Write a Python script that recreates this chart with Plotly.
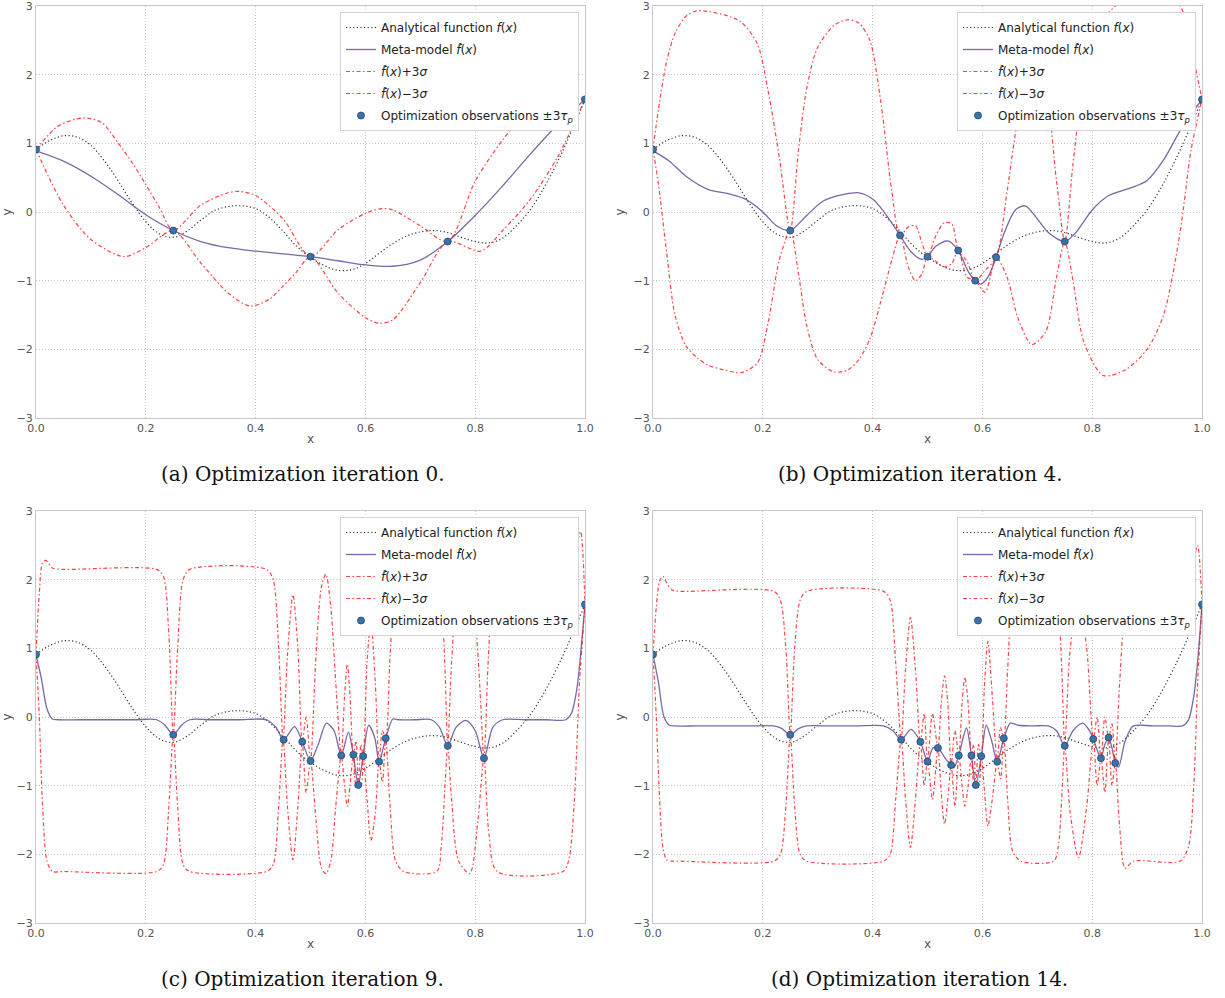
import plotly.graph_objects as go

W, H = 1225, 998

# ---------------- data ----------------
x_true = [0, 0.025, 0.05, 0.075, 0.1, 0.125, 0.15, 0.175, 0.2, 0.225, 0.25, 0.275, 0.3, 0.325,
          0.35, 0.375, 0.4, 0.425, 0.45, 0.475, 0.5, 0.525, 0.55, 0.575, 0.6, 0.625, 0.65, 0.675,
          0.7, 0.725, 0.75, 0.775, 0.8, 0.825, 0.85, 0.875, 0.9, 0.925, 0.95, 0.975, 1.0]
f_true = [0.91, 1.04, 1.11, 1.09, 0.97, 0.74, 0.45, 0.13, -0.14, -0.32, -0.37, -0.28, -0.12, 0.02,
          0.08, 0.09, 0.05, -0.08, -0.28, -0.50, -0.66, -0.78, -0.85, -0.84, -0.75, -0.60, -0.46,
          -0.35, -0.29, -0.27, -0.30, -0.37, -0.43, -0.45, -0.38, -0.20, 0.03, 0.35, 0.73, 1.17, 1.64]

# Panel (a) iteration 0
xa = [0, 0.05, 0.1, 0.15, 0.2, 0.25, 0.3, 0.35, 0.4, 0.45, 0.5, 0.55, 0.6, 0.65, 0.7, 0.75,
      0.8, 0.85, 0.9, 0.95, 1.0]
meta_a = [0.89, 0.74, 0.52, 0.25, -0.04, -0.27, -0.43, -0.52, -0.57, -0.61, -0.65, -0.71, -0.77,
          -0.79, -0.70, -0.43, -0.05, 0.38, 0.84, 1.27, 1.64]
xa_up = [0, 0.04, 0.085, 0.12, 0.15, 0.175, 0.2, 0.225, 0.25, 0.3, 0.35, 0.37, 0.4, 0.45, 0.5,
         0.55, 0.6, 0.63, 0.65, 0.7, 0.75, 0.8, 0.85, 0.9, 0.95, 1.0]
up_a = [0.91, 1.25, 1.37, 1.3, 1.0, 0.72, 0.4, 0.06, -0.27, 0.1, 0.28, 0.3, 0.24, -0.1, -0.65,
        -0.26, -0.02, 0.05, 0.03, -0.2, -0.43, 0.45, 1.05, 1.5, 1.75, 1.64]
xa_lo = [0, 0.05, 0.1, 0.16, 0.2, 0.25, 0.3, 0.35, 0.39, 0.425, 0.45, 0.475, 0.5, 0.55, 0.6,
         0.625, 0.65, 0.7, 0.75, 0.81, 0.85, 0.9, 0.95, 1.0]
lo_a = [0.91, 0.1, -0.4, -0.65, -0.52, -0.27, -0.74, -1.18, -1.37, -1.27, -1.08, -0.87, -0.65,
        -1.18, -1.54, -1.62, -1.57, -1.03, -0.43, -0.57, -0.27, 0.18, 0.8, 1.64]
obs_xa = [0.0, 0.25, 0.5, 0.75, 1.0]
obs_ya = [0.91, -0.27, -0.65, -0.43, 1.64]

# Panel (b) iteration 4
xb = [0, 0.03, 0.06, 0.1, 0.14, 0.17, 0.2, 0.225, 0.25, 0.28, 0.31, 0.35, 0.375, 0.4, 0.42, 0.45,
      0.47, 0.49, 0.5, 0.515, 0.537, 0.556, 0.575, 0.587, 0.597, 0.61, 0.625, 0.64, 0.66, 0.678,
      0.7, 0.72, 0.75, 0.77, 0.8, 0.83, 0.87, 0.9, 0.93, 0.965, 1.0]
meta_b = [0.89, 0.74, 0.52, 0.33, 0.26, 0.18, 0.0, -0.2, -0.27, -0.05, 0.16, 0.26, 0.28, 0.19,
          0.01, -0.34, -0.58, -0.69, -0.65, -0.5, -0.42, -0.56, -0.88, -1.0, -1.05, -0.95, -0.66,
          -0.3, 0.03, 0.09, -0.1, -0.3, -0.43, -0.3, 0.03, 0.24, 0.35, 0.46, 0.76, 1.25, 1.64]
xb_s = [0, 0.01, 0.025, 0.04, 0.06, 0.08, 0.1, 0.13, 0.16, 0.19, 0.21, 0.23, 0.25, 0.265, 0.28,
        0.3, 0.33, 0.355, 0.375, 0.395, 0.415, 0.435, 0.45, 0.465, 0.478, 0.49, 0.5, 0.515, 0.53,
        0.544, 0.556, 0.572, 0.587, 0.605, 0.625, 0.645, 0.665, 0.69, 0.715, 0.735, 0.75, 0.765,
        0.785, 0.82, 0.86, 0.9, 0.93, 0.96, 0.98, 1.0]
up_b = [0.91, 1.5, 2.2, 2.6, 2.85, 2.93, 2.92, 2.87, 2.77, 2.45, 1.75, 0.8, -0.27, 0.9, 1.8, 2.4,
        2.72, 2.8, 2.75, 2.5, 1.6, 0.3, -0.34, -0.22, -0.2, -0.45, -0.65, -0.35, -0.16, -0.17,
        -0.56, -0.72, -1.0, -0.85, -0.66, 0.3, 1.35, 2.0, 1.7, 0.45, -0.43, 0.7, 1.9, 2.8, 3.1,
        3.15, 3.1, 3.0, 2.4, 1.64]
lo_b = [0.91, 0.4, -0.6, -1.5, -1.95, -2.12, -2.23, -2.3, -2.34, -2.2, -1.6, -0.7, -0.27, -0.9,
        -1.65, -2.15, -2.33, -2.3, -2.15, -1.85, -1.3, -0.7, -0.34, -0.8, -1.0, -0.9, -0.65, -0.72,
        -0.8, -0.75, -0.56, -0.95, -1.0, -1.17, -0.66, -0.95, -1.55, -1.93, -1.75, -0.95, -0.43,
        -1.0, -1.9, -2.38, -2.3, -2.0, -1.5, -0.3, 0.9, 1.64]
obs_xb = [0.0, 0.25, 0.45, 0.5, 0.556, 0.587, 0.625, 0.75, 1.0]
obs_yb = [0.91, -0.27, -0.34, -0.65, -0.56, -1.0, -0.66, -0.43, 1.64]

# Panel (c) iteration 9
xc = [0, 0.01, 0.02, 0.03, 0.04, 0.08, 0.13, 0.18, 0.22, 0.235, 0.25, 0.265, 0.28, 0.32, 0.37,
      0.42, 0.437, 0.451, 0.471, 0.485, 0.5, 0.514, 0.529, 0.543, 0.556, 0.569, 0.578, 0.587,
      0.596, 0.606, 0.617, 0.625, 0.637, 0.65, 0.66, 0.69, 0.72, 0.735, 0.75, 0.765, 0.783, 0.8,
      0.816, 0.832, 0.85, 0.89, 0.93, 0.965, 0.975, 0.985, 0.993, 1.0]
meta_c = [0.91, 0.55, 0.12, -0.03, -0.04, -0.04, -0.04, -0.04, -0.04, -0.12, -0.26, -0.12, -0.04,
          -0.04, -0.04, -0.04, -0.15, -0.33, -0.14, -0.36, -0.64, -0.4, -0.09, -0.2, -0.56, -0.22,
          -0.55, -0.99, -0.56, -0.12, -0.3, -0.65, -0.31, -0.03, -0.04, -0.04, -0.04, -0.15,
          -0.42, -0.15, -0.05, -0.2, -0.6, -0.15, -0.04, -0.04, -0.04, -0.04, 0.05, 0.4, 1.0, 1.64]
xc_up = [0, 0.006, 0.012, 0.018, 0.03, 0.05, 0.22, 0.232, 0.242, 0.25, 0.258, 0.268, 0.28, 0.42,
         0.432, 0.442, 0.45, 0.458, 0.468, 0.477, 0.485, 0.492, 0.5, 0.51, 0.52, 0.528, 0.537,
         0.546, 0.556, 0.562, 0.567, 0.572, 0.578, 0.583, 0.587, 0.592, 0.596, 0.603, 0.61, 0.618,
         0.625, 0.631, 0.637, 0.645, 0.655, 0.67, 0.73, 0.738, 0.745, 0.75, 0.757, 0.77, 0.783,
         0.797, 0.808, 0.816, 0.825, 0.84, 0.96, 0.975, 0.985, 0.992, 1.0]
up_c = [0.91, 1.8, 2.25, 2.28, 2.17, 2.15, 2.15, 2.05, 1.2, -0.26, 1.0, 2.0, 2.15, 2.15, 2.0, 1.0,
        -0.33, 0.9, 1.78, 1.0, -0.36, 0.0, -0.64, 0.9, 1.9, 2.08, 1.6, 0.5, -0.56, 0.3, 0.77, 0.3,
        -0.55, -0.35, -0.99, -0.4, -0.57, 0.8, 1.4, 0.5, -0.65, -0.2, -0.31, 0.9, 1.9, 2.15, 2.15,
        1.8, 0.7, -0.42, 0.8, 2.0, 2.2, 1.7, 0.5, -0.6, 1.0, 2.15, 2.15, 2.2, 2.5, 2.7, 1.64]
xc_lo = [0, 0.006, 0.012, 0.02, 0.03, 0.05, 0.22, 0.232, 0.242, 0.25, 0.258, 0.268, 0.28, 0.42,
         0.432, 0.442, 0.45, 0.458, 0.468, 0.477, 0.485, 0.492, 0.5, 0.51, 0.52, 0.528, 0.537,
         0.546, 0.556, 0.562, 0.567, 0.572, 0.578, 0.583, 0.587, 0.592, 0.596, 0.603, 0.61, 0.618,
         0.625, 0.631, 0.637, 0.645, 0.655, 0.67, 0.73, 0.738, 0.745, 0.75, 0.757, 0.77, 0.79,
         0.805, 0.816, 0.825, 0.84, 0.96, 0.97, 0.98, 0.99, 1.0]
lo_c = [0.91, 0.0, -1.3, -2.1, -2.25, -2.25, -2.25, -2.15, -1.3, -0.26, -1.3, -2.15, -2.25, -2.25,
        -2.15, -1.3, -0.33, -1.3, -2.08, -1.3, -0.36, -1.1, -0.64, -1.5, -2.2, -2.28, -2.1, -1.3,
        -0.56, -1.0, -1.3, -1.0, -0.55, -1.0, -0.99, -1.0, -0.57, -1.2, -1.8, -1.4, -0.65, -0.95,
        -0.31, -1.3, -2.1, -2.25, -2.25, -1.9, -1.0, -0.42, -1.2, -2.1, -2.28, -1.5, -0.6, -1.7,
        -2.25, -2.25, -2.1, -1.3, 0.5, 1.64]
obs_xc = [0.0, 0.25, 0.451, 0.485, 0.5, 0.556, 0.578, 0.587, 0.596, 0.625, 0.637, 0.75, 0.816, 1.0]
obs_yc = [0.91, -0.26, -0.33, -0.36, -0.64, -0.56, -0.55, -0.99, -0.57, -0.65, -0.31, -0.42, -0.6, 1.64]

# Panel (d) iteration 14
xd = [0, 0.01, 0.02, 0.03, 0.04, 0.08, 0.13, 0.18, 0.22, 0.235, 0.25, 0.265, 0.28, 0.32, 0.37,
      0.42, 0.437, 0.452, 0.47, 0.487, 0.5, 0.51, 0.519, 0.532, 0.543, 0.548, 0.557, 0.571, 0.58,
      0.588, 0.598, 0.607, 0.617, 0.627, 0.639, 0.651, 0.665, 0.69, 0.72, 0.735, 0.75, 0.765,
      0.783, 0.795, 0.802, 0.81, 0.816, 0.823, 0.83, 0.836, 0.842, 0.848, 0.86, 0.875, 0.91,
      0.94, 0.965, 0.975, 0.985, 0.993, 1.0]
meta_d = [0.91, 0.5, 0.0, -0.12, -0.13, -0.13, -0.13, -0.13, -0.13, -0.17, -0.26, -0.17, -0.13,
          -0.13, -0.13, -0.13, -0.2, -0.33, -0.18, -0.36, -0.64, -0.45, -0.45, -0.6, -0.7, -0.74,
          -0.56, -0.16, -0.56, -0.99, -0.57, -0.12, -0.35, -0.65, -0.31, -0.09, -0.12, -0.13,
          -0.13, -0.2, -0.42, -0.2, -0.09, -0.2, -0.32, -0.5, -0.6, -0.4, -0.3, -0.45, -0.67,
          -0.73, -0.35, -0.13, -0.13, -0.13, -0.13, -0.05, 0.3, 0.9, 1.64]
xd_s = [0, 0.006, 0.012, 0.018, 0.025, 0.035, 0.05, 0.22, 0.232, 0.242, 0.25, 0.258, 0.268, 0.28,
        0.42, 0.432, 0.442, 0.452, 0.46, 0.469, 0.478, 0.487, 0.494, 0.5, 0.509, 0.519, 0.525,
        0.531, 0.537, 0.543, 0.55, 0.557, 0.563, 0.568, 0.574, 0.58, 0.584, 0.588, 0.593, 0.598,
        0.604, 0.61, 0.618, 0.627, 0.633, 0.639, 0.646, 0.655, 0.67, 0.73, 0.738, 0.745, 0.75,
        0.76, 0.775, 0.79, 0.802, 0.809, 0.816, 0.823, 0.83, 0.836, 0.842, 0.85, 0.86, 0.875,
        0.96, 0.975, 0.985, 0.992, 1.0]
up_d = [0.91, 1.6, 1.98, 2.05, 1.95, 1.85, 1.83, 1.83, 1.7, 1.0, -0.26, 1.0, 1.7, 1.83, 1.83, 1.7,
        0.8, -0.33, 0.7, 1.45, 0.7, -0.36, 0.05, -0.64, 0.05, -0.45, 0.2, 0.6, 0.2, -0.7, -0.2,
        -0.56, 0.2, 0.58, 0.2, -0.56, -0.4, -0.99, -0.4, -0.57, 0.5, 1.1, 0.3, -0.65, -0.15,
        -0.31, 0.7, 1.6, 1.83, 1.83, 1.6, 0.6, -0.42, 1.0, 1.7, 1.0, -0.32, 0.0, -0.6, 0.0, -0.3,
        -0.1, -0.67, 0.5, 1.5, 1.83, 1.83, 2.0, 2.3, 2.5, 1.64]
lo_d = [0.91, 0.0, -1.2, -1.9, -2.08, -2.1, -2.1, -2.1, -2.0, -1.3, -0.26, -1.3, -2.0, -2.1, -2.1,
        -2.0, -1.2, -0.33, -1.2, -1.9, -1.2, -0.36, -1.0, -0.64, -1.2, -0.45, -1.1, -1.56, -1.2,
        -0.7, -1.3, -0.56, -1.0, -1.3, -1.0, -0.56, -0.95, -0.99, -1.0, -0.57, -1.1, -1.59, -1.2,
        -0.65, -0.9, -0.31, -1.2, -1.95, -2.1, -2.1, -1.9, -1.1, -0.42, -1.4, -2.05, -1.3, -0.32,
        -1.0, -0.6, -1.1, -0.3, -1.0, -0.67, -1.6, -2.2, -2.1, -2.1, -1.9, -1.0, 0.5, 1.64]
obs_xd = [0.0, 0.25, 0.452, 0.487, 0.5, 0.519, 0.543, 0.557, 0.58, 0.588, 0.598, 0.627, 0.639,
          0.75, 0.802, 0.816, 0.83, 0.842, 1.0]
obs_yd = [0.91, -0.26, -0.33, -0.36, -0.65, -0.45, -0.70, -0.56, -0.56, -0.99, -0.57, -0.65,
          -0.31, -0.42, -0.32, -0.6, -0.3, -0.67, 1.64]

captions = ["(a) Optimization iteration 0.", "(b) Optimization iteration 4.",
            "(c) Optimization iteration 9.", "(d) Optimization iteration 14."]
x_ticks = [0.0, 0.2, 0.4, 0.6, 0.8, 1.0]
y_ticks = [-3, -2, -1, 0, 1, 2, 3]

# ---------------- figure ----------------
panels = [
    (xa, meta_a, xa_up, up_a, xa_lo, lo_a, obs_xa, obs_ya),
    (xb, meta_b, xb_s, up_b, xb_s, lo_b, obs_xb, obs_yb),
    (xc, meta_c, xc_up, up_c, xc_lo, lo_c, obs_xc, obs_yc),
    (xd, meta_d, xd_s, up_d, xd_s, lo_d, obs_xd, obs_yd),
]

# pixel boxes (left, right, top, bottom)
boxes = [(36, 585, 6, 418), (653, 1202, 6, 418), (36, 585, 511, 923), (653, 1202, 511, 923)]

RED = "rgba(255,20,20,0.8)"
RED_DASH = "4px,2.5px,1.5px,2.5px"
fig = go.Figure()
lab_true = "Analytical function <i>f</i>(<i>x</i>)"
lab_meta = "Meta-model <i>f&#770;</i>(<i>x</i>)"
lab_up = "<i>f&#770;</i>(<i>x</i>)+3<i>σ</i>"
lab_lo = "<i>f&#770;</i>(<i>x</i>)−3<i>σ</i>"
lab_obs = "Optimization observations ±3<i>τ<sub>p</sub></i>"

for i, (xm, ym, xu, yu, xl, yl, ox, oy) in enumerate(panels):
    sfx = "" if i == 0 else str(i + 1)
    xa_ref, ya_ref, lg = "x" + sfx, "y" + sfx, "legend" + sfx
    common = dict(xaxis=xa_ref, yaxis=ya_ref, legend=lg, mode="lines")
    fig.add_trace(go.Scatter(x=x_true, y=f_true, name=lab_true, legendgroup=f"g{i}a",
                             line=dict(color="#333333", width=1.2, dash="1.2px,2.4px", shape="spline"),
                             **common))
    fig.add_trace(go.Scatter(x=xm, y=ym, name=lab_meta, legendgroup=f"g{i}b",
                             line=dict(color="#7A68A6", width=1.3, shape="spline", smoothing=0.8), **common))
    fig.add_trace(go.Scatter(x=xu, y=yu, name=lab_up, legendgroup=f"g{i}c",
                             line=dict(color=RED, width=1.2, dash=RED_DASH,
                                       shape="spline", smoothing=0.8), **common))
    fig.add_trace(go.Scatter(x=xl, y=yl, name=lab_lo, legendgroup=f"g{i}d",
                             line=dict(color=RED, width=1.2, dash=RED_DASH,
                                       shape="spline", smoothing=0.8), **common))
    fig.add_trace(go.Scatter(x=ox, y=oy, name=lab_obs, legendgroup=f"g{i}e",
                             xaxis=xa_ref, yaxis=ya_ref, legend=lg, mode="markers",
                             marker=dict(color="#3872A8", size=7, line=dict(color="#24496f", width=0.8)),
                             error_y=dict(type="constant", value=0.03, color="#7FB6DF",
                                          thickness=1.2, width=2)))

    l, r, t, b = boxes[i]
    xdom = [l / W, r / W]
    ydom = [1 - b / H, 1 - t / H]
    axis_common = dict(showline=True, linecolor="#c8c8c8", linewidth=1.2, mirror=True,
                       showgrid=True, gridcolor="#c8c8c8", griddash="1px,2px", gridwidth=1,
                       zeroline=False, ticks="", automargin=False, ticklabeloverflow="allow",
                       tickfont=dict(family="DejaVu Sans", size=11, color="#555555"))
    fig.layout["xaxis" + sfx] = dict(domain=xdom, range=[0, 1], anchor=ya_ref,
                                     tickvals=x_ticks, ticktext=[f"{v:.1f}" for v in x_ticks],
                                     title=dict(text="x", standoff=0,
                                                font=dict(family="DejaVu Sans", size=12, color="#555555")),
                                     **axis_common)
    fig.layout["yaxis" + sfx] = dict(domain=ydom, range=[-3, 3], anchor=xa_ref,
                                     tickvals=y_ticks, ticktext=[str(v).replace("-", "−") for v in y_ticks],
                                     title=dict(text="y", standoff=6,
                                                font=dict(family="DejaVu Sans", size=12, color="#555555")),
                                     **axis_common)
    leg_right = (r - 6) / W
    leg_top = 1 - (t + 6) / H
    fig.layout[lg] = dict(x=leg_right, y=leg_top, xanchor="right", yanchor="top",
                          bgcolor="white", bordercolor="#d4d4d4", borderwidth=1,
                          font=dict(family="DejaVu Sans", size=12, color="#222222"),
                          itemwidth=30, tracegroupgap=3)
    cx = ((l + r) / 2 - 8) / W
    cy = 1 - (b + 56) / H
    fig.add_annotation(text=captions[i], x=cx, y=cy, xref="paper", yref="paper",
                       showarrow=False, xanchor="center", yanchor="middle",
                       font=dict(family="DejaVu Serif", size=20, color="#111111"))

fig.update_layout(width=W, height=H, margin=dict(l=0, r=0, t=0, b=0),
                  paper_bgcolor="white", plot_bgcolor="white", showlegend=True)

fig.write_html("out.html", config={"displayModeBar": False},
               post_script="document.body.style.margin='0';")
